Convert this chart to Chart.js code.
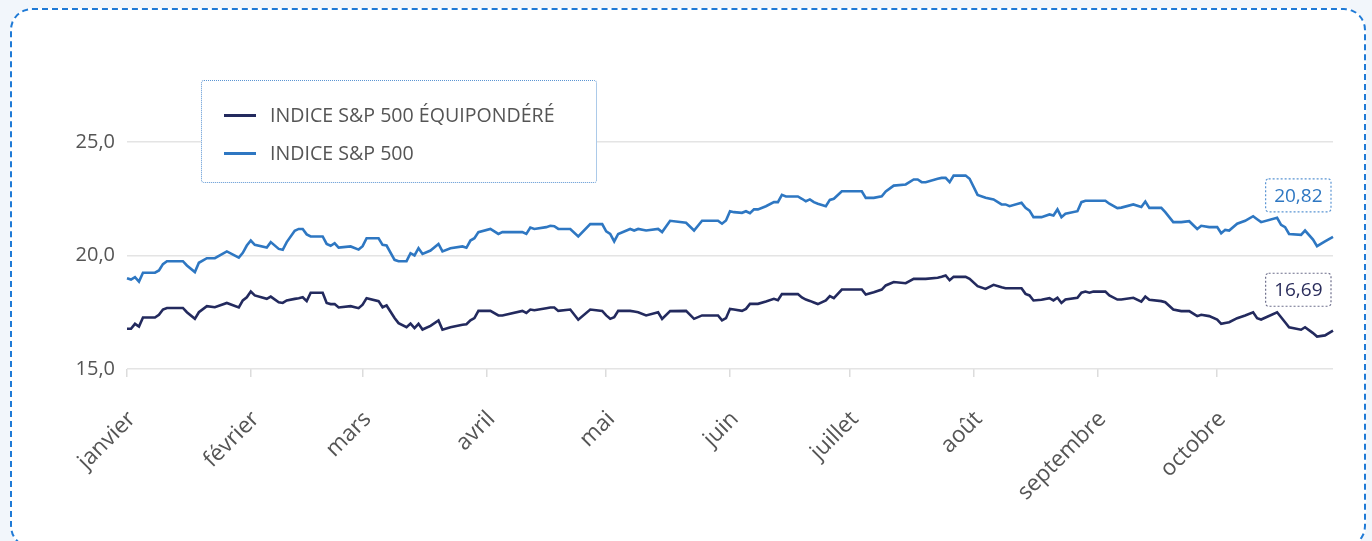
<!DOCTYPE html>
<html lang="fr">
<head>
<meta charset="utf-8">
<title>Indice S&amp;P 500</title>
<script src="https://cdn.jsdelivr.net/npm/chart.js"></script>
<style>
  html, body { margin: 0; padding: 0; }
  body { width: 1372px; height: 541px; background: #f2f6fb; position: relative; overflow: hidden; font-family: "Open Sans", sans-serif; }
  .card { position: absolute; left: 10px; top: 8px; width: 1352px; height: 536px; border: 2px dashed #1f7ad6; border-radius: 22px; background: #fff; }
  #wrap { position: absolute; left: 0; top: 0; width: 1372px; height: 541px; }
  .legend { position: absolute; left: 201px; top: 80px; width: 394px; height: 101px; border: 1.5px dotted #5b95d3; border-radius: 3px; background: #fff; }
  .legend .item { position: absolute; left: 22px; height: 24px; line-height: 24px; font-size: 19.6px; color: #555; white-space: nowrap; }
  .legend .item span { display: inline-block; width: 32px; height: 3px; vertical-align: middle; margin-right: 14px; position: relative; top: -1px; }
</style>
</head>
<body>
<div class="card"></div>
<div id="wrap"><canvas id="mycanvas" width="1372" height="541"></canvas></div>
<div class="legend">
  <div class="item" style="top:22px"><span style="background:#232a5e"></span>INDICE S&amp;P 500 ÉQUIPONDÉRÉ</div>
  <div class="item" style="top:60px"><span style="background:#2e77c2"></span>INDICE S&amp;P 500</div>
</div>
<script>
// jour de l'année (0 = 1er janvier)
var days = [0, 1, 2, 3, 4, 7, 8, 9, 10, 14, 15, 17, 18, 20, 22, 25, 28, 29, 30, 31,
	32, 35, 36, 38, 39, 40, 42, 43, 44, 45, 46, 49, 50, 51, 52, 53, 56, 58, 59, 60,
	63, 64, 65, 67, 68, 70, 71, 72, 73, 74, 76, 78, 79, 81, 84, 85, 86, 87, 88, 91,
	93, 94, 99, 100, 101, 102, 105, 106, 107, 108, 111, 113, 116, 119, 120, 121, 122, 123, 126, 127,
	128, 130, 133, 134, 136, 140, 142, 144, 148, 149, 150, 151, 152, 154, 155, 156, 157, 158, 160, 162,
	163, 164, 165, 168, 169, 170, 171, 172, 173, 175, 176, 177, 179, 184, 185, 187, 189, 190, 192, 195,
	197, 198, 199, 200, 203, 204, 205, 206, 207, 210, 211, 213, 215, 217, 219, 220, 221, 224, 225, 226,
	227, 229, 231, 232, 233, 234, 235, 238, 239, 240, 241, 242, 245, 246, 248, 249, 252, 254, 255, 256,
	259, 260, 262, 264, 266, 268, 269, 271, 273, 274, 275, 276, 278, 280, 282, 283, 284, 288, 289, 290,
	291, 294, 295, 297, 298, 300, 302];

var sp500 = [19.00, 18.94, 19.05, 18.85, 19.24, 19.24, 19.34, 19.62, 19.75, 19.75, 19.56, 19.27, 19.68, 19.88, 19.88, 20.18, 19.91, 20.12, 20.44, 20.66,
	20.47, 20.35, 20.59, 20.29, 20.25, 20.59, 21.09, 21.17, 21.17, 20.93, 20.84, 20.84, 20.51, 20.43, 20.54, 20.35, 20.40, 20.26, 20.41, 20.76,
	20.76, 20.47, 20.44, 19.81, 19.75, 19.75, 20.10, 20.00, 20.32, 20.07, 20.22, 20.51, 20.18, 20.32, 20.40, 20.34, 20.66, 20.76, 21.03, 21.17,
	20.95, 21.03, 21.03, 20.95, 21.23, 21.17, 21.25, 21.31, 21.29, 21.17, 21.17, 20.84, 21.38, 21.38, 21.06, 20.95, 20.62, 20.95, 21.17, 21.10,
	21.17, 21.10, 21.17, 21.03, 21.53, 21.44, 21.10, 21.53, 21.53, 21.40, 21.54, 21.95, 21.91, 21.88, 21.95, 21.86, 22.03, 22.03, 22.17, 22.35,
	22.35, 22.67, 22.60, 22.60, 22.50, 22.39, 22.47, 22.35, 22.28, 22.17, 22.45, 22.50, 22.83, 22.83, 22.54, 22.54, 22.61, 22.82, 23.08, 23.13,
	23.35, 23.35, 23.23, 23.23, 23.38, 23.42, 23.42, 23.23, 23.52, 23.52, 23.38, 22.67, 22.54, 22.47, 22.25, 22.25, 22.17, 22.32, 22.10, 21.98,
	21.69, 21.69, 21.81, 21.76, 22.03, 21.69, 21.84, 21.95, 22.35, 22.41, 22.41, 22.41, 22.41, 22.28, 22.09, 22.11, 22.25, 22.14, 22.38, 22.10,
	22.10, 21.91, 21.47, 21.47, 21.51, 21.17, 21.31, 21.25, 21.25, 20.98, 21.13, 21.10, 21.40, 21.53, 21.73, 21.60, 21.47, 21.66, 21.35, 21.25,
	20.95, 20.91, 21.10, 20.70, 20.41, 20.62, 20.82];

var sp500eq = [16.77, 16.77, 16.99, 16.87, 17.27, 17.27, 17.39, 17.62, 17.69, 17.69, 17.50, 17.21, 17.50, 17.77, 17.72, 17.91, 17.71, 18.02, 18.16, 18.41,
	18.24, 18.09, 18.19, 17.94, 17.91, 18.02, 18.09, 18.12, 18.16, 17.99, 18.36, 18.36, 17.91, 17.86, 17.86, 17.71, 17.77, 17.68, 17.83, 18.12,
	17.99, 17.72, 17.80, 17.25, 17.02, 16.84, 17.00, 16.80, 16.99, 16.74, 16.90, 17.14, 16.73, 16.84, 16.95, 16.97, 17.14, 17.24, 17.56, 17.56,
	17.36, 17.36, 17.56, 17.47, 17.62, 17.59, 17.68, 17.71, 17.71, 17.56, 17.62, 17.17, 17.62, 17.56, 17.36, 17.21, 17.28, 17.56, 17.56, 17.53,
	17.50, 17.36, 17.50, 17.21, 17.55, 17.56, 17.21, 17.36, 17.36, 17.14, 17.24, 17.65, 17.62, 17.56, 17.65, 17.87, 17.87, 17.87, 17.97, 18.09,
	18.03, 18.30, 18.30, 18.30, 18.15, 18.06, 18.00, 17.93, 17.86, 18.02, 18.21, 18.12, 18.50, 18.50, 18.28, 18.38, 18.50, 18.68, 18.83, 18.78,
	18.97, 18.97, 18.97, 18.97, 19.02, 19.06, 19.12, 18.91, 19.06, 19.06, 18.97, 18.65, 18.53, 18.71, 18.60, 18.56, 18.56, 18.56, 18.31, 18.24,
	18.02, 18.05, 18.12, 18.02, 18.14, 17.91, 18.06, 18.14, 18.36, 18.41, 18.36, 18.41, 18.41, 18.24, 18.06, 18.06, 18.14, 17.97, 18.19, 18.05,
	17.99, 17.94, 17.62, 17.55, 17.55, 17.33, 17.39, 17.33, 17.18, 16.99, 17.03, 17.06, 17.24, 17.36, 17.50, 17.24, 17.18, 17.50, 17.28, 17.06,
	16.84, 16.73, 16.84, 16.58, 16.43, 16.48, 16.69];

var monthStarts = [0, 31, 59, 90, 120, 151, 181, 212, 243, 273];
var monthLabels = ["janvier", "février", "mars", "avril", "mai", "juin", "juillet", "août", "septembre", "octobre"];
var yTicks = [15, 20, 25];

var FONT = '"Open Sans", sans-serif';

function points(vals) {
	var out = [];
	for (var i in days) {
		out.push({x: days[i], y: vals[i]});
	}
	return out;
}

function fr(v, n) {
	return v.toFixed(n).replace('.', ',');
}

// étiquette encadrée de la dernière valeur, posée au-dessus de la courbe
var endLabels = {
	id: 'endLabels',
	afterDatasetsDraw: function(chart) {
		var ctx = chart.ctx;
		var xs = chart.scales.x;
		var ys = chart.scales.y;
		chart.data.datasets.forEach(function(ds) {
			var last = ds.data[ds.data.length - 1];
			var txt = fr(last.y, 2);
			ctx.save();
			ctx.font = '19px ' + FONT;
			var w = ctx.measureText(txt).width + 17;
			var h = 33;
			var right = xs.right - 2;
			var left = right - w;
			var top = Infinity;
			ds.data.forEach(function(p) {
				if (xs.getPixelForValue(p.x) >= left - 4) {
					top = Math.min(top, ys.getPixelForValue(p.y));
				}
			});
			var y0 = top - 6 - h;
			ctx.beginPath();
			ctx.roundRect(left, y0, w, h, 3);
			ctx.fillStyle = '#fff';
			ctx.fill();
			ctx.setLineDash([2, 2]);
			ctx.lineWidth = 1.2;
			ctx.strokeStyle = ds.boxColor;
			ctx.stroke();
			ctx.setLineDash([]);
			ctx.fillStyle = ds.textColor;
			ctx.textAlign = 'center';
			ctx.textBaseline = 'middle';
			ctx.fillText(txt, left + w / 2, y0 + h / 2 + 1);
			ctx.restore();
		});
	}
};

var chartdata = {
	datasets: [
	{
		label: "INDICE S&P 500 ÉQUIPONDÉRÉ",
		borderColor: "#232a5e",
		backgroundColor: "#232a5e",
		boxColor: "#6e6f8c",
		textColor: "#2a2d5c",
		borderWidth: 2.6,
		pointRadius: 0,
		tension: 0,
		clip: false,
		data: points(sp500eq)
	},
	{
		label: "INDICE S&P 500",
		borderColor: "#2e77c2",
		backgroundColor: "#2e77c2",
		boxColor: "#5b95d3",
		textColor: "#2e77c2",
		borderWidth: 2.6,
		pointRadius: 0,
		tension: 0,
		clip: false,
		data: points(sp500)
	}
	]
};

var ctx = document.getElementById("mycanvas");
var LineGraph = new Chart(ctx, {
	type: 'line',
	data: chartdata,
	plugins: [endLabels],
	options: {
		responsive: false,
		animation: false,
		layout: { padding: { top: 142, right: 39, left: 0, bottom: 0 } },
		plugins: {
			legend: { display: false },
			tooltip: { enabled: false }
		},
		scales: {
			x: {
				type: 'linear',
				min: 0,
				max: 302,
				afterBuildTicks: function(scale) {
					scale.ticks = monthStarts.map(function(v) { return {value: v}; });
				},
				afterFit: function(scale) { scale.height = 172; },
				grid: { drawOnChartArea: false, drawTicks: true, tickLength: 8, color: '#dcdcdc', lineWidth: 1.5 },
				border: { display: false },
				ticks: {
					autoSkip: false,
					minRotation: 45,
					maxRotation: 45,
					padding: 29,
					labelOffset: 5,
					color: '#555',
					font: { family: FONT, size: 22.5 },
					callback: function(v, i) { return monthLabels[i]; }
				}
			},
			y: {
				min: 15,
				max: 25,
				afterBuildTicks: function(scale) {
					scale.ticks = yTicks.map(function(v) { return {value: v}; });
				},
				afterFit: function(scale) { scale.width = 127; },
				grid: { drawTicks: false, color: '#e4e4e4', lineWidth: 1.5 },
				border: { display: false },
				ticks: {
					padding: 12,
					color: '#555',
					font: { family: FONT, size: 20 },
					callback: function(v) { return fr(v, 1); }
				}
			}
		}
	}
});
</script>
</body>
</html>
